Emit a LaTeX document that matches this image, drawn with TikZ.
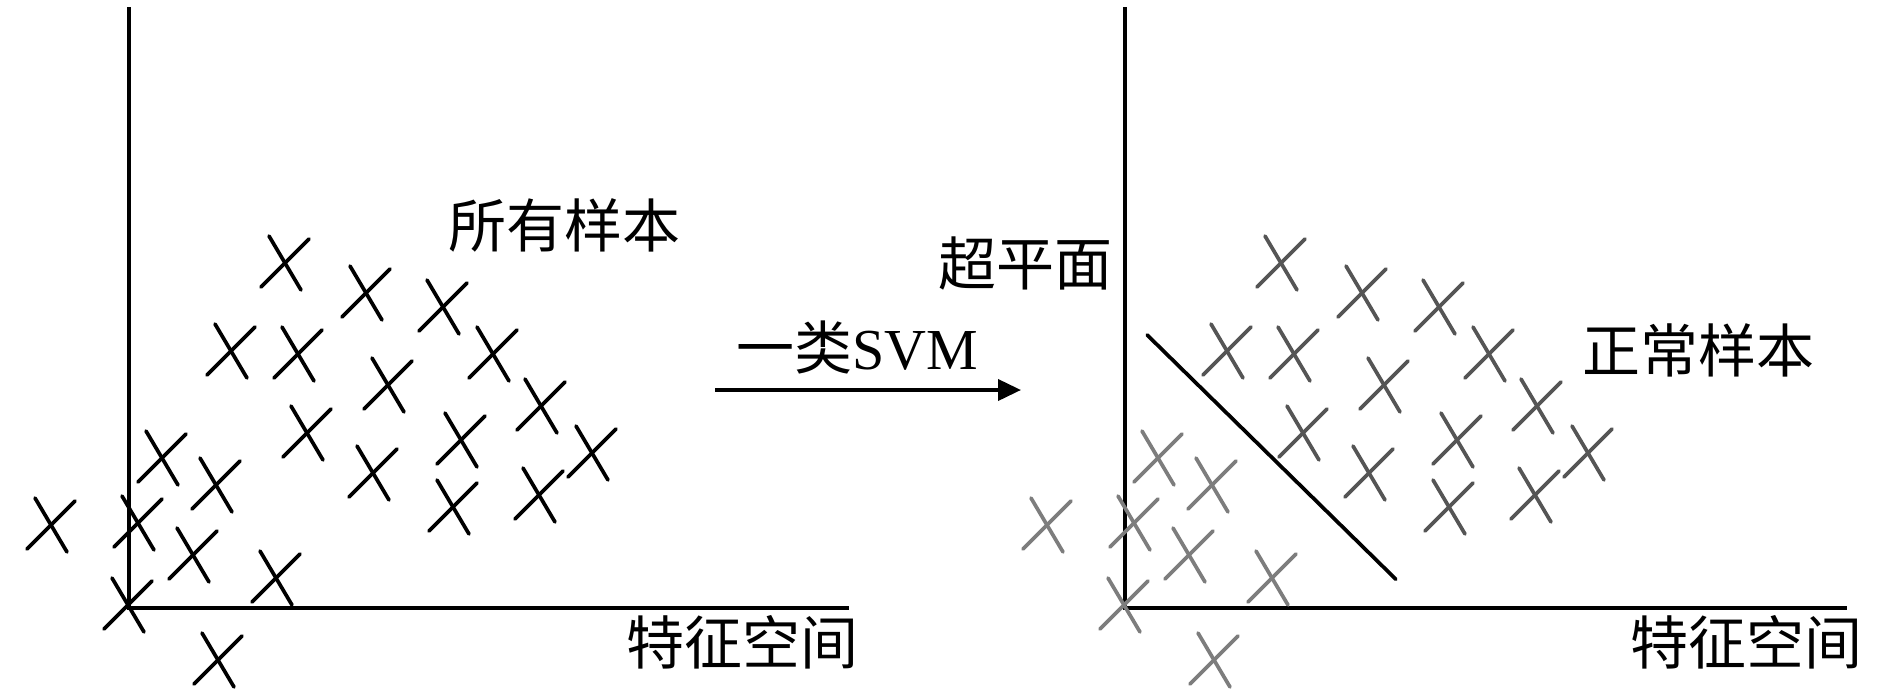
\documentclass[tikz,border=0pt]{standalone}
\usepackage{fontspec}
\setmainfont{Liberation Serif}
\newfontfamily\cjk{Noto Sans CJK SC}
\usetikzlibrary{arrows.meta}
\definecolor{darkx}{HTML}{555555}
\definecolor{lightx}{HTML}{7D7D7D}
\tikzset{
  axisline/.style={line width=4pt, black},
  xstroke/.style={line width=3.7pt, line cap=round},
  xmark/.pic={
    \draw[xstroke] (-24,24) -- (24,-24);
    \draw[xstroke] (-16,-27) -- (16,27);
  },
  lbl/.style={inner sep=0pt, font=\fontsize{58}{64}\selectfont},
  hyper/.style={line width=3.7pt, black, line cap=round},
  flow/.style={line width=3.8pt, -{Triangle[length=23pt,width=21pt]}},
}
\begin{document}
\begin{tikzpicture}[x=1pt,y=-1pt]
\useasboundingbox (0,0) rectangle (1890,697);
% ---- left panel ----
\coordinate (lTop) at (128.5,7);
\coordinate (lO) at (128.5,607.5);
\coordinate (lEnd) at (848.5,607.5);
\draw[axisline] (lTop) -- (lO) -- (lEnd);
\foreach \cx/\cy in {285/263,366/293,443/307,231/351,298/354,493/354,388/385,541/406,307/433,461/440,592/453,162/458,216/485,373/473,453/507,539/495,51/525,138/523,193/555,276/578,128/605,218/660}
  \pic[black] at (\cx,\cy) {xmark};
\node[lbl] (allS) at (564,225) {\cjk 所有样本};
\node[lbl] (featL) at (742,642) {\cjk 特征空间};
% ---- arrow ----
\coordinate (aS) at (715,390);
\coordinate (aE) at (1021,390);
\draw[flow] (aS) -- (aE);
\node[lbl] (svm) at (857,347) {{\cjk 一类}SVM};
% ---- right panel ----
\coordinate (rTop) at (1124.6,7);
\coordinate (rO) at (1124.6,607.5);
\coordinate (rEnd) at (1846.7,607.5);
\draw[axisline] (rTop) -- (rO) -- (rEnd);
\foreach \cx/\cy in {285/263,366/293,443/307,231/351,298/354,493/354,388/385,541/406,307/433,461/440,592/453,373/473,453/507,539/495}
  \pic[darkx] at (\cx+996,\cy) {xmark};
\foreach \cx/\cy in {162/458,216/485,51/525,138/523,193/555,276/578,128/605,218/660}
  \pic[lightx] at (\cx+996,\cy) {xmark};
\coordinate (hA) at (1147.2,335);
\coordinate (hB) at (1395.9,579.3);
\draw[hyper] (hA) -- (hB);
\node[lbl] (hyp) at (1025.5,263) {\cjk 超平面};
\node[lbl] (normS) at (1698,350) {\cjk 正常样本};
\node[lbl] (featR) at (1746,642) {\cjk 特征空间};
\end{tikzpicture}
\end{document}
